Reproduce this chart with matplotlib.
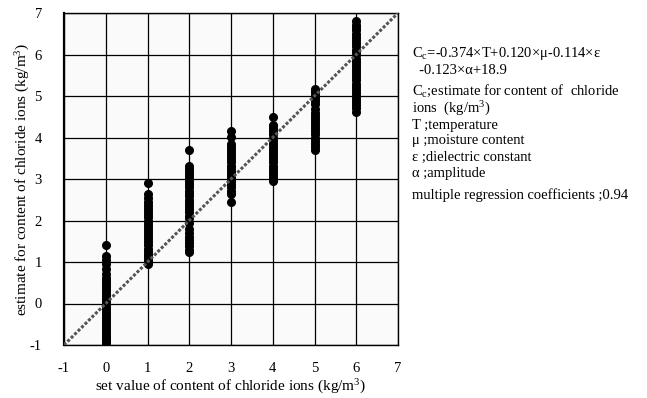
import matplotlib.pyplot as plt

plt.rcParams['font.family'] = ['Liberation Serif', 'DejaVu Serif']
plt.rcParams['mathtext.fontset'] = 'custom'
plt.rcParams['mathtext.rm'] = 'Liberation Serif'
plt.rcParams['mathtext.it'] = 'Liberation Serif'
plt.rcParams['axes.unicode_minus'] = False

# set value -> estimated values
set_values = [0, 1, 2, 3, 4, 5, 6]
est_0 = [-1.00, -0.95, -0.90, -0.85, -0.80, -0.74, -0.68, -0.62, -0.55, -0.48, -0.42,
         -0.35, -0.28, -0.22, -0.15, -0.08, -0.02, 0.05, 0.12, 0.18, 0.25, 0.32, 0.40,
         0.48, 0.55, 0.62, 0.72, 0.82, 0.95, 1.05, 1.15, 1.40]
est_1 = [0.95, 1.00, 1.05, 1.12, 1.18, 1.25, 1.32, 1.40, 1.48, 1.55, 1.62, 1.70, 1.78,
         1.85, 1.92, 2.00, 2.08, 2.15, 2.22, 2.30, 2.38, 2.45, 2.55, 2.65, 2.90]
est_2 = [1.25, 1.30, 1.38, 1.45, 1.52, 1.60, 1.70, 1.80, 1.95, 2.05, 2.12, 2.20, 2.28,
         2.35, 2.42, 2.50, 2.58, 2.65, 2.72, 2.80, 2.88, 2.95, 3.02, 3.10, 3.18, 3.25,
         3.32, 3.70]
est_3 = [2.45, 2.65, 2.72, 2.80, 2.88, 2.95, 3.02, 3.10, 3.18, 3.25, 3.32, 3.40, 3.48,
         3.55, 3.62, 3.70, 3.78, 3.85, 4.02, 4.15]
est_4 = [2.95, 3.02, 3.10, 3.18, 3.25, 3.32, 3.40, 3.48, 3.55, 3.62, 3.70, 3.78, 3.85,
         3.92, 4.00, 4.08, 4.15, 4.22, 4.30, 4.50]
est_5 = [3.70, 3.78, 3.85, 3.92, 4.00, 4.08, 4.15, 4.22, 4.30, 4.38, 4.45, 4.52, 4.60,
         4.68, 4.80, 4.88, 4.95, 5.02, 5.10, 5.18]
est_6 = [4.62, 4.70, 4.78, 4.85, 4.92, 5.00, 5.08, 5.15, 5.22, 5.30, 5.38, 5.45, 5.52,
         5.60, 5.68, 5.75, 5.82, 5.90, 5.98, 6.05, 6.12, 6.20, 6.28, 6.35, 6.42, 6.50,
         6.58, 6.65, 6.72, 6.80]
estimates = [est_0, est_1, est_2, est_3, est_4, est_5, est_6]

ideal = [-1, 7]
ticks = [-1, 0, 1, 2, 3, 4, 5, 6, 7]

note_lines = [
    'C$_c$=-0.374×T+0.120×μ-0.114×ε',
    '  -0.123×α+18.9',
    'C$_c$;estimate for content of  chloride',
    'ions  (kg/m$^3$)',
    'T ;temperature',
    'μ ;moisture content',
    'ε ;dielectric constant',
    'α ;amplitude',
    'multiple regression coefficients ;0.94',
]
note_y_px = [54, 70, 91, 109, 125, 141, 157, 173, 195]

fig = plt.figure(figsize=(6.47, 3.98), dpi=100)
ax = fig.add_axes([64 / 647, 1 - 345 / 398, (398 - 64) / 647, (345 - 13) / 398])
ax.set_facecolor('#fafafa')

for xv, ys in zip(set_values, estimates):
    ax.plot([xv] * len(ys), ys, 'o', color='black', markersize=5.5, zorder=3)

ax.plot(ideal, ideal, linestyle=(0, (1, 0.6)), color='#555555', linewidth=2.2, zorder=4)

ax.set_xlim(-1, 7)
ax.set_ylim(-1, 7)
ax.set_xticks(ticks)
ax.set_yticks(ticks)
ax.grid(True, color='black', linewidth=0.9)
ax.set_axisbelow(True)
ax.tick_params(axis='x', length=0, labelsize=10.5, pad=12)
ax.tick_params(axis='y', length=0, labelsize=10.5, pad=16)
for s in ax.spines.values():
    s.set_linewidth(1.0)
ax.spines['left'].set_linewidth(1.6)

ax.set_xlabel('set value of content of chloride ions (kg/m$^3$)', fontsize=11, labelpad=2)
ax.set_ylabel('estimate for content of chloride ions (kg/m$^3$)', fontsize=11, labelpad=-2)

for line, ypx in zip(note_lines, note_y_px):
    fig.text(412 / 647, 1 - ypx / 398, line, fontsize=10.5, va='center', ha='left')

fig.savefig('out.png', dpi=100)
